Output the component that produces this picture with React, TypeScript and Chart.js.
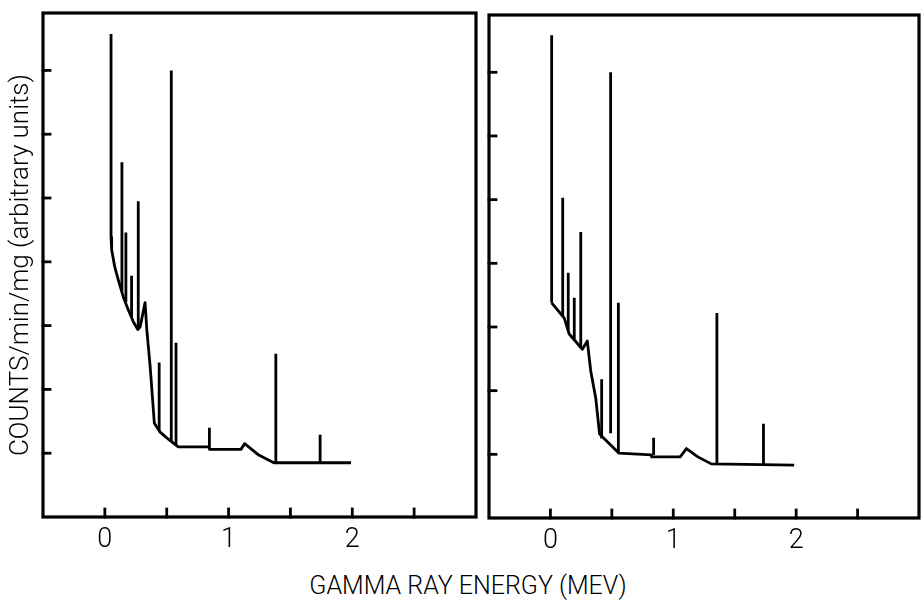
import React, { useEffect, useRef } from 'react';
import { Chart, registerables } from 'chart.js';

Chart.register(...registerables);

// ---------- data (energy in MeV, counts in arbitrary units) ----------
const leftContinuumE = [0.05, 0.055, 0.08, 0.108, 0.149, 0.189, 0.23, 0.266, 0.285, 0.325, 0.339, 0.366, 0.40, 0.447, 0.50, 0.593, 0.845, 0.845, 1.10, 1.13, 1.244, 1.366, 1.99];
const leftContinuumY = [4.38, 4.19, 3.92, 3.72, 3.45, 3.25, 3.06, 2.94, 2.98, 3.36, 2.94, 2.36, 1.47, 1.33, 1.24, 1.10, 1.10, 1.06, 1.06, 1.15, 0.97, 0.85, 0.85];
const leftPeakE = [0.05, 0.138, 0.17, 0.216, 0.27, 0.439, 0.537, 0.575, 0.845, 1.382, 1.74];
const leftPeakBase = [4.38, 3.53, 3.37, 3.12, 2.94, 1.35, 1.19, 1.13, 1.10, 0.85, 0.85];
const leftPeakTop = [7.57, 5.56, 4.46, 3.78, 4.95, 2.42, 7.0, 2.73, 1.40, 2.56, 1.29];

const rightContinuumE = [0.01, 0.113, 0.153, 0.26, 0.30, 0.328, 0.369, 0.40, 0.556, 0.823, 0.823, 1.056, 1.107, 1.20, 1.309, 1.984];
const rightContinuumY = [3.38, 3.14, 2.89, 2.65, 2.78, 2.31, 1.88, 1.32, 1.02, 0.99, 0.96, 0.96, 1.09, 0.96, 0.85, 0.83];
const rightPeakE = [0.01, 0.10, 0.145, 0.194, 0.247, 0.417, 0.49, 0.553, 0.84, 1.355, 1.734];
const rightPeakBase = [3.38, 3.17, 2.95, 2.80, 2.67, 1.25, 1.33, 1.02, 0.99, 0.85, 0.83];
const rightPeakTop = [7.58, 5.03, 3.85, 3.46, 4.49, 2.18, 7.0, 3.38, 1.26, 3.22, 1.48];

const xLabelValues = [0, 1, 2];
const xTickMarks = [0, 0.5, 1, 1.5, 2, 2.5];
const yTickMarks = [1, 2, 3, 4, 5, 6, 7];
const xMin = -0.5;
const xMax = 3.0;
const yMin = 0;
const yMax = 7.9;

const yTitle = 'COUNTS/min/mg (arbitrary units)';
const xTitle = 'GAMMA RAY ENERGY (MEV)';

const FONT = 'Roboto, "Liberation Sans", sans-serif';

function continuumPoints(E: number[], Y: number[]) {
  return E.map((e, i) => ({ x: e, y: Y[i] }));
}

function peakPoints(E: number[], base: number[], top: number[]) {
  const pts: { x: number; y: number | null }[] = [];
  E.forEach((e, i) => {
    pts.push({ x: e, y: base[i] }, { x: e, y: top[i] }, { x: e, y: null });
  });
  return pts;
}

const frameTicksPlugin = {
  id: 'frameTicks',
  afterDatasetsDraw(chart: any) {
    const { ctx, chartArea, scales } = chart;
    const { left, top, right, bottom } = chartArea;
    ctx.save();
    ctx.strokeStyle = '#000';
    ctx.lineWidth = 2.8;
    ctx.lineCap = 'square';
    xTickMarks.forEach((v) => {
      const px = scales.x.getPixelForValue(v);
      ctx.beginPath();
      ctx.moveTo(px, bottom);
      ctx.lineTo(px, bottom - 8);
      ctx.stroke();
    });
    yTickMarks.forEach((v) => {
      const py = scales.y.getPixelForValue(v);
      ctx.beginPath();
      ctx.moveTo(left, py);
      ctx.lineTo(left + 7, py);
      ctx.stroke();
    });
    ctx.lineWidth = 3.2;
    ctx.strokeRect(left, top, right - left, bottom - top);
    ctx.restore();
  },
};

type PanelProps = {
  contE: number[];
  contY: number[];
  peakE: number[];
  peakBase: number[];
  peakTop: number[];
  width: number;
  height: number;
  left: number;
  padLeft: number;
  padRight: number;
  padTop: number;
  xAxisHeight: number;
  showYTitle: boolean;
  yAxisWidth: number;
};

function Panel(p: PanelProps) {
  const ref = useRef<HTMLCanvasElement | null>(null);
  useEffect(() => {
    if (!ref.current) return;
    const chart = new Chart(ref.current, {
      type: 'line',
      data: {
        datasets: [
          {
            data: continuumPoints(p.contE, p.contY),
            borderColor: '#000',
            borderWidth: 2.8,
            pointRadius: 0,
            tension: 0,
            fill: false,
            borderJoinStyle: 'round',
          } as any,
          {
            data: peakPoints(p.peakE, p.peakBase, p.peakTop),
            borderColor: '#000',
            borderWidth: 2.8,
            pointRadius: 0,
            tension: 0,
            fill: false,
            spanGaps: false,
          } as any,
        ],
      },
      options: {
        responsive: false,
        animation: false,
        devicePixelRatio: 1,
        layout: { padding: { left: p.padLeft, right: p.padRight, top: p.padTop, bottom: 0 } },
        plugins: { legend: { display: false }, tooltip: { enabled: false } },
        events: [],
        scales: {
          x: {
            type: 'linear',
            min: xMin,
            max: xMax,
            grid: { display: false, drawTicks: false },
            border: { display: false },
            afterBuildTicks: (s: any) => {
              s.ticks = xLabelValues.map((v) => ({ value: v }));
            },
            afterFit: (s: any) => {
              s.height = p.xAxisHeight;
            },
            ticks: {
              color: '#000',
              font: { family: FONT, size: 27, weight: 300 as any },
              padding: 7,
              maxRotation: 0,
              autoSkip: false,
              callback: (v: any) => String(v),
            },
          },
          y: {
            type: 'linear',
            display: p.showYTitle,
            min: yMin,
            max: yMax,
            grid: { display: false, drawTicks: false },
            border: { display: false },
            ticks: { display: false },
            afterFit: (s: any) => {
              s.width = p.yAxisWidth;
            },
            title: {
              display: p.showYTitle,
              text: yTitle,
              color: '#000',
              font: { family: FONT, size: 26, weight: 300 as any },
              padding: { top: 6, bottom: 0 },
            },
          },
        },
      } as any,
      plugins: [frameTicksPlugin],
    });
    return () => chart.destroy();
  }, []);
  return (
    <canvas
      ref={ref}
      width={p.width}
      height={p.height}
      style={{ position: 'absolute', left: p.left, top: 0, width: p.width, height: p.height }}
    />
  );
}

export default function App() {
  return (
    <div style={{ position: 'absolute', left: 0, top: 0, width: 922, height: 609, background: '#fff', overflow: 'hidden' }}>
      <Panel
        contE={leftContinuumE}
        contY={leftContinuumY}
        peakE={leftPeakE}
        peakBase={leftPeakBase}
        peakTop={leftPeakTop}
        width={482}
        height={560}
        left={0}
        padLeft={0}
        padRight={6}
        padTop={13}
        xAxisHeight={43}
        showYTitle={true}
        yAxisWidth={43}
      />
      <Panel
        contE={rightContinuumE}
        contY={rightContinuumY}
        peakE={rightPeakE}
        peakBase={rightPeakBase}
        peakTop={rightPeakTop}
        width={440}
        height={560}
        left={482}
        padLeft={7}
        padRight={3}
        padTop={15}
        xAxisHeight={42}
        showYTitle={false}
        yAxisWidth={0}
      />
      <div
        style={{
          position: 'absolute',
          left: 0,
          width: 936,
          top: 571,
          textAlign: 'center',
          fontFamily: FONT,
          fontWeight: 300,
          fontSize: 25,
          color: '#000',
          lineHeight: '30px',
        }}
      >
        {xTitle}
      </div>
    </div>
  );
}
